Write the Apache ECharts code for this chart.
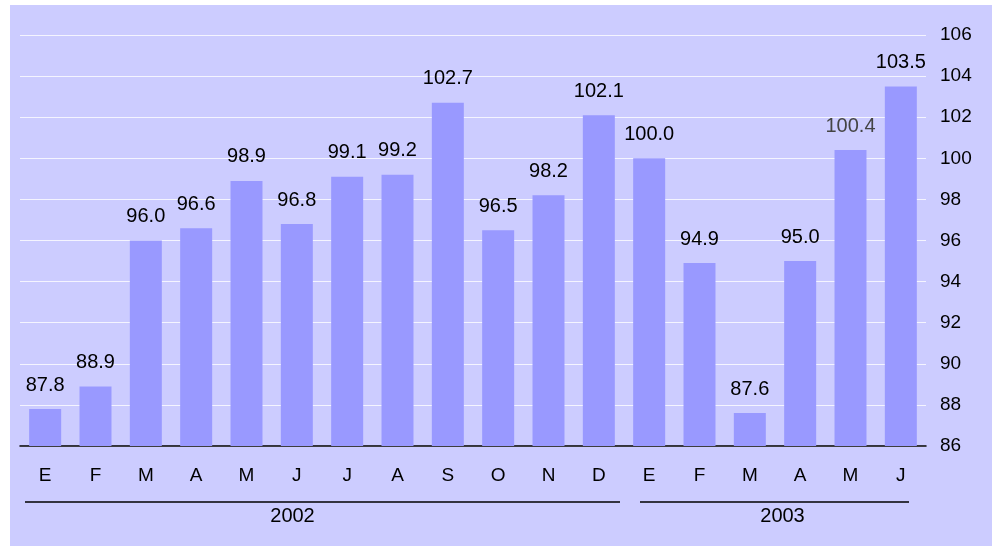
<!DOCTYPE html>
<html lang="es">
<head>
    <meta charset="utf-8" />
    <title>Indice mensual</title>
    <script src="https://cdn.jsdelivr.net/npm/echarts@6/dist/echarts.min.js"></script>
    <style>
        body { margin: 0; background: #fff; }
        #main { width: 992px; height: 546px; }
    </style>
</head>
<body>
    <div id="main"></div>
    <script>
        // meses (E = enero ...)
        var months = ['E', 'F', 'M', 'A', 'M', 'J', 'J', 'A', 'S', 'O', 'N', 'D', 'E', 'F', 'M', 'A', 'M', 'J'];
        var values = [87.8, 88.9, 96.0, 96.6, 98.9, 96.8, 99.1, 99.2, 102.7, 96.5, 98.2, 102.1, 100.0, 94.9, 87.6, 95.0, 100.4, 103.5];
        var years = ['2002', '2003'];
        var yearSpans = [[0, 11], [12, 17]];   // first / last month index of each year
        var yTicks = [86, 88, 90, 92, 94, 96, 98, 100, 102, 104, 106];

        var FONT = 'Liberation Sans, Arial, sans-serif';
        var chartDom = document.getElementById('main');
        var myChart = echarts.init(chartDom);
        var option;

        var barData = values.map(function (v, i) {
            var d = { value: v };
            if (i == 16) d.label = { color: '#444' };
            return d;
        });

        option = {
            animation: false,
            backgroundColor: '#fff',
            textStyle: { fontFamily: FONT },
            grid: { left: 20, right: 66, top: 35, bottom: 100 },
            xAxis: {
                type: 'category',
                data: months,
                axisLine: { lineStyle: { color: '#000', width: 1.5 } },
                axisTick: { length: 5, lineStyle: { color: '#000', width: 1.5 } },
                axisLabel: { color: '#000', fontSize: 19, margin: 20 },
                splitLine: { show: false }
            },
            yAxis: {
                type: 'value',
                position: 'right',
                min: yTicks[0],
                max: yTicks[yTicks.length - 1],
                interval: 2,
                axisLine: { show: false },
                axisTick: { show: false },
                axisLabel: { color: '#000', fontSize: 19, margin: 14 },
                splitLine: { lineStyle: { color: '#f4f4ff', width: 1 } }
            },
            series: [{
                type: 'bar',
                data: barData,
                barWidth: 32,
                itemStyle: { color: '#9999ff' },
                label: {
                    show: true,
                    position: 'top',
                    distance: 14,
                    color: '#000',
                    fontSize: 20,
                    formatter: function (p) { return p.value.toFixed(1); }
                }
            }]
        };

        option && myChart.setOption(option);

        // year brackets under the month labels
        var c0 = myChart.convertToPixel({ xAxisIndex: 0 }, 0);
        var c1 = myChart.convertToPixel({ xAxisIndex: 0 }, 1);
        var band = c1 - c0;
        var insets = [[5, 4], [16, 17]];
        var textShift = [-30, 8];
        var gfx = [{
            type: 'rect',
            z: -10,
            shape: { x: 10, y: 5, width: 992, height: 546 },
            style: { fill: '#ccccff' }
        }];
        years.forEach(function (yr, k) {
            var xa = myChart.convertToPixel({ xAxisIndex: 0 }, yearSpans[k][0]) - band / 2 + insets[k][0];
            var xb = myChart.convertToPixel({ xAxisIndex: 0 }, yearSpans[k][1]) + band / 2 - insets[k][1];
            gfx.push({
                type: 'line',
                shape: { x1: xa, y1: 502, x2: xb, y2: 502 },
                style: { stroke: '#000', lineWidth: 1.5 }
            });
            gfx.push({
                type: 'text',
                x: (xa + xb) / 2 + textShift[k],
                y: 516,
                style: {
                    text: yr, fill: '#000', fontSize: 20,
                    fontFamily: FONT,
                    align: 'center', verticalAlign: 'middle'
                }
            });
        });
        myChart.setOption({ graphic: gfx });
    </script>
</body>
</html>
